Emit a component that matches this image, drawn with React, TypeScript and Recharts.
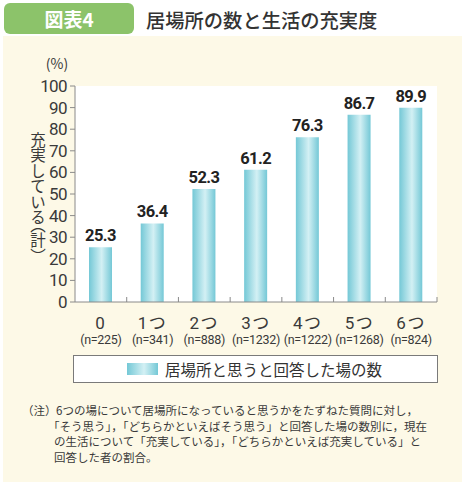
import React from 'react';
import { BarChart, Bar, XAxis, YAxis, CartesianGrid, LabelList, Legend } from 'recharts';

const categories = ['0', '1つ', '2つ', '3つ', '4つ', '5つ', '6つ'];
const sampleSizes = ['(n=225)', '(n=341)', '(n=888)', '(n=1232)', '(n=1222)', '(n=1268)', '(n=824)'];
const values = [25.3, 36.4, 52.3, 61.2, 76.3, 86.7, 89.9];
const yTicks = [0, 10, 20, 30, 40, 50, 60, 70, 80, 90, 100];
const seriesName = '居場所と思うと回答した場の数';
const yUnit = '(%)';
const yTitle = '充実している（計）';
const noteLines = [
  '6つの場について居場所になっていると思うかをたずねた質問に対し，',
  '「そう思う」，「どちらかといえばそう思う」と回答した場の数別に，現在',
  'の生活について「充実している」，「どちらかといえば充実している」と',
  '回答した者の割合。',
];

const data = categories.map((c, i) => ({ name: c, n: sampleSizes[i], value: values[i] }));

const NUM_FONT = "'Liberation Sans Narrow', 'Roboto', 'Noto Sans CJK JP', sans-serif";
const JP_FONT = "'Noto Sans CJK JP', 'Noto Sans', sans-serif";
const AXIS = '#8a8a8a';
const TEXT = '#3a3a3a';

const XTick = (props: any) => {
  const { x, y, payload } = props;
  const i = payload.index ?? props.index ?? 0;
  const half = payload.offset && payload.offset > 0 ? payload.offset : 362 / 7 / 2;
  return (
    <g>
      <line x1={x + half} x2={x + half} y1={y} y2={y - 5} stroke={AXIS} strokeWidth={1} />
      <text x={x} y={y + 27} textAnchor="middle" fill={TEXT} fontSize={17} fontFamily={NUM_FONT} letterSpacing={1.5}>
        {payload.value}
      </text>
      <text x={x} y={y + 41.5} textAnchor="middle" fill={TEXT} fontSize={12.5} fontFamily={NUM_FONT} letterSpacing={-0.3}>
        {sampleSizes[i]}
      </text>
    </g>
  );
};

const YLabel = (props: any) => {
  const vb = props.viewBox || { x: 15, y: 86, width: 60, height: 216 };
  return (
    <g>
      <text x={vb.x + 42} y={vb.y - 17} textAnchor="middle" fill={TEXT} fontSize={14} fontFamily={JP_FONT}>
        {yUnit}
      </text>
      <text
        x={vb.x + 23}
        y={vb.y + 108}
        textAnchor="middle"
        fill={TEXT}
        fontSize={15.5}
        fontFamily={JP_FONT}
        style={{ writingMode: 'vertical-rl', fontFeatureSettings: '"vhal" 1' } as any}
      >
        {yTitle}
      </text>
    </g>
  );
};

const renderLegend = (props: any) => {
  const item = props.payload && props.payload[0];
  return (
    <div
      style={{
        boxSizing: 'border-box',
        width: 365,
        height: 28,
        border: '1px solid #7a7a7a',
        background: '#ffffff',
        display: 'flex',
        alignItems: 'center',
        paddingLeft: 53,
      }}
    >
      <span
        style={{
          display: 'inline-block',
          width: 31,
          height: 12,
          marginRight: 7,
          background: 'linear-gradient(90deg, #74c8d6 0%, #d3f0f4 55%, #74c8d6 100%)',
        }}
      />
      <span style={{ fontSize: 15.5, color: '#333', fontFamily: JP_FONT, lineHeight: '20px' }}>
        {item ? item.value : seriesName}
      </span>
    </div>
  );
};

export default function App() {
  return (
    <div style={{ position: 'absolute', left: 0, top: 0, width: 464, height: 490, background: '#ffffff', overflow: 'hidden' }}>
      <div style={{ position: 'absolute', left: 3, top: 36, width: 459, height: 446, background: '#fdf9e7' }} />
      <div
        style={{
          position: 'absolute', left: 4, top: 3, width: 130, height: 31, borderRadius: 6, background: '#8cc36a',
          color: '#fff', fontFamily: JP_FONT, fontWeight: 700, fontSize: 19, lineHeight: '31px', textAlign: 'center',
        }}
      >
        図表4
      </div>
      <div
        style={{
          position: 'absolute', left: 146, top: 6, height: 28, fontFamily: JP_FONT, fontWeight: 500, fontSize: 19.3,
          lineHeight: '28px', color: '#333', whiteSpace: 'nowrap',
        }}
      >
        居場所の数と生活の充実度
      </div>
      <div style={{ position: 'absolute', left: 0, top: 0 }}>
        <BarChart width={464} height={490} data={data} margin={{ top: 86, right: 27, bottom: 138, left: 15 }} barSize={23}>
          <defs>
            <linearGradient id="barGrad" x1="0" y1="0" x2="1" y2="0">
              <stop offset="0%" stopColor="#74c8d6" />
              <stop offset="55%" stopColor="#d3f0f4" />
              <stop offset="100%" stopColor="#74c8d6" />
            </linearGradient>
          </defs>
          <CartesianGrid fill="#ffffff" stroke="none" horizontal={false} vertical={false} />
          <XAxis
            dataKey="name"
            height={50}
            stroke={AXIS}
            tickLine={false}
            tickSize={0}
            tickMargin={0}
            interval={0}
            tick={<XTick />}
          />
          <YAxis
            width={60}
            domain={[0, 100]}
            ticks={yTicks}
            interval={0}
            stroke={AXIS}
            tickSize={5}
            tickMargin={3}
            tick={{ fill: TEXT, fontSize: 17, fontFamily: NUM_FONT, letterSpacing: -0.6 }}
            label={<YLabel />}
          />
          <Legend
            layout="horizontal"
            verticalAlign="middle"
            align="center"
            content={renderLegend}
            wrapperStyle={{ left: 73, top: 355, width: 365, height: 28 }}
          />
          <Bar dataKey="value" name={seriesName} fill="url(#barGrad)" isAnimationActive={false}>
            <LabelList
              dataKey="value"
              position="top"
              offset={6}
              fill="#222"
              fontSize={16.5}
              fontWeight={700}
              fontFamily={NUM_FONT}
              letterSpacing={-0.6}
            />
          </Bar>
        </BarChart>
      </div>
      <div style={{ position: 'absolute', left: 22, top: 403, fontFamily: JP_FONT, fontSize: 11.5, lineHeight: '15.5px', color: '#3a3a3a', whiteSpace: 'nowrap' }}>
        （注）
      </div>
      {noteLines.map((line, i) => (
        <div
          key={i}
          style={{
            position: 'absolute', left: i === 1 ? 48 : i === 0 ? 56 : 54, top: 403 + i * 15.5, fontFamily: JP_FONT,
            fontSize: 11.5, lineHeight: '15.5px', color: '#3a3a3a', whiteSpace: 'nowrap',
          }}
        >
          {line}
        </div>
      ))}
    </div>
  );
}
